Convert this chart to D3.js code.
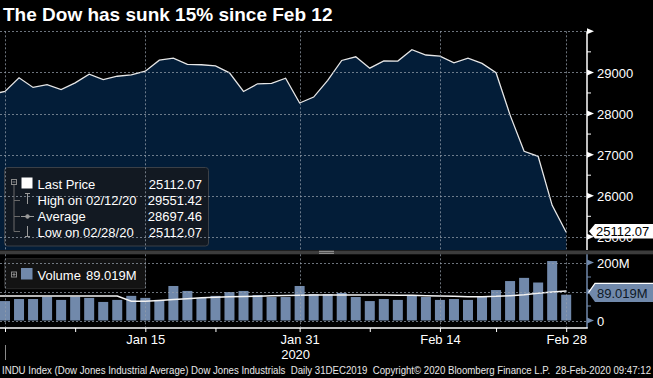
<!DOCTYPE html>
<html><head><meta charset="utf-8">
<script src="https://cdn.jsdelivr.net/npm/d3@7"></script>
<style>
html,body{margin:0;padding:0;background:#000;overflow:hidden}
svg{display:block}
text{font-family:"Liberation Sans",Arial,sans-serif}
</style>
</head><body>
<svg id="c" width="653" height="378"></svg>
<script>
// ---------- data ----------
const title = "The Dow has sunk 15% since Feb 12";
const dates = ["2019-12-30","2019-12-31","2020-01-02","2020-01-03","2020-01-06","2020-01-07","2020-01-08","2020-01-09","2020-01-10","2020-01-13","2020-01-14","2020-01-15","2020-01-16","2020-01-17","2020-01-21","2020-01-22","2020-01-23","2020-01-24","2020-01-27","2020-01-28","2020-01-29","2020-01-30","2020-01-31","2020-02-03","2020-02-04","2020-02-05","2020-02-06","2020-02-07","2020-02-10","2020-02-11","2020-02-12","2020-02-13","2020-02-14","2020-02-18","2020-02-19","2020-02-20","2020-02-21","2020-02-24","2020-02-25","2020-02-26","2020-02-27","2020-02-28"];
const closePrices = [28462,28538,28869,28635,28703,28584,28745,28957,28824,28907,28940,29030,29298,29348,29196,29186,29160,28990,28536,28723,28734,28859,28256,28400,28808,29291,29380,29103,29277,29276,29551,29423,29398,29232,29348,29220,28992,27961,27081,26958,25767,25112];
// volume in millions (Dec 31 .. Feb 28)
const volumeDates = dates.slice(1);
const volumes = [67,74,74,82,71,82,78,64,71,85,78,71,119,102,78,85,98,102,88,81,81,119,91,91,95,81,67,74,71,88,81,71,74,71,81,105,136,147,131,205,89.019];
// volume moving average in millions (Dec 30 .. Feb 28)
const volumeAvg = [84.5,84.5,84.5,84.5,84.5,84.5,84.5,84.5,84.5,84.5,66.2,66.2,69,72,75.2,78.6,80,81.7,82.8,83.9,85.1,86.2,86.9,87.9,87.9,87.9,87.9,87.9,87.9,87,86.8,85.6,84.5,83.3,82.2,82.2,83.3,85.6,89.1,93.7,98.3,101.7];
const priceTicks = [25000,26000,27000,28000,29000,30000];
const priceLabelTicks = [25000,26000,27000,28000,29000];
const priceMinorTicks = [25500,26500,27500,28500,29500];
const volumeGridTicks = [0,100,200];
const volumeLabelTicks = [0,200];
const volumeMinorTicks = [50,150];
const xTickDates = ["2019-12-31","2020-01-08","2020-01-15","2020-01-23","2020-01-31","2020-02-07","2020-02-14","2020-02-21","2020-02-28"];
const gridDates = ["2019-12-31","2020-01-15","2020-01-31","2020-02-14","2020-02-28"];
const xLabelDates = ["2020-01-15","2020-01-31","2020-02-14","2020-02-28"];
const xLabelTexts = ["Jan 15","Jan 31","Feb 14","Feb 28"];
const yearLabel = "2020";
const legendNames = ["Last Price","High on 02/12/20","Average","Low on 02/28/20"];
const legendValues = ["25112.07","29551.42","28697.46","25112.07"];
const lastPriceLabel = "25112.07";
const volumeLegend = ["Volume","89.019M"];
const footer = "INDU Index (Dow Jones Industrial Average) Dow Jones Industrials  Daily 31DEC2019  Copyright\u00A9 2020 Bloomberg Finance L.P.  28-Feb-2020 09:47:12";

// ---------- layout ----------
const svg = d3.select("#c");
const W = 653, axisX = 587;
const mainTop = 31.3, mainBot = 250;
const volTop = 254.3, volAxisY = 328;
const navy = "#031d38", barCol = "#7189ab", gridCol = "rgba(150,160,172,0.72)";

const x = d3.scalePoint().domain(dates).range([5 - 14.03, 566.2]);
const y = d3.scaleLinear().domain([24680, 30000]).range([mainBot, mainTop]);
const yv = d3.scaleLinear().domain([0, 200]).range([320.5, 262.5]);

svg.append("rect").attr("width", W).attr("height", 378).attr("fill", "#000");

const defs = svg.append("defs");
defs.append("clipPath").attr("id","cm").append("rect").attr("x",0).attr("y",mainTop).attr("width",axisX).attr("height",mainBot-mainTop);
defs.append("clipPath").attr("id","cv").append("rect").attr("x",0).attr("y",volTop).attr("width",axisX).attr("height",volAxisY-volTop);

// title
svg.append("text").attr("x",3).attr("y",21).attr("fill","#fff").attr("font-size",19).attr("font-weight","bold").text(title);

// ---------- main panel ----------
const gm = svg.append("g").attr("clip-path","url(#cm)");
const series = dates.map((d,i)=>({d, v: closePrices[i]}));
gm.append("path").datum(series)
  .attr("d", d3.area().x(p=>x(p.d)).y0(mainBot).y1(p=>y(p.v)))
  .attr("fill", navy);

// legend box background
svg.append("rect").attr("x",4.5).attr("y",167.5).attr("width",204).attr("height",78.5).attr("rx",3)
  .attr("fill","#121922").attr("stroke","#3b4047");

// grid main
const gg = svg.append("g").attr("stroke",gridCol).attr("stroke-dasharray","2,2").attr("stroke-width",1);
gg.selectAll(".hm").data(priceTicks).join("line")
  .attr("x1",0).attr("x2",axisX).attr("y1",d=>Math.round(y(d))+0.5).attr("y2",d=>Math.round(y(d))+0.5);
gg.selectAll(".vm").data(gridDates).join("line")
  .attr("x1",d=>Math.round(x(d))+0.5).attr("x2",d=>Math.round(x(d))+0.5).attr("y1",mainTop).attr("y2",mainBot);

gm.append("path").datum(series)
  .attr("d", d3.line().x(p=>x(p.d)).y(p=>y(p.v)))
  .attr("fill","none").attr("stroke","#e6e6e6").attr("stroke-width",1.3);

// legend content
const lg = svg.append("g");
const rowY = [188.5, 204.8, 221, 237.3];
lg.append("rect").attr("x",11.5).attr("y",179.5).attr("width",5).attr("height",5).attr("fill","none").attr("stroke","#8a8a8a");
lg.append("line").attr("x1",12.5).attr("x2",15.5).attr("y1",182).attr("y2",182).attr("stroke","#8a8a8a");
lg.append("line").attr("x1",14).attr("x2",14).attr("y1",185).attr("y2",231.5).attr("stroke","#6a6a6a");
[200.5,216.5,231.5].forEach(v=>lg.append("line").attr("x1",14).attr("x2",20).attr("y1",v).attr("y2",v).attr("stroke","#6a6a6a"));
lg.append("rect").attr("x",21.5).attr("y",177.5).attr("width",11).attr("height",11).attr("fill","#fff");
const sym = lg.append("g").attr("stroke","#9a9a9a").attr("fill","none");
sym.append("path").attr("d","M25,193.5H30M27.5,193.5V204");
sym.append("path").attr("d","M21,216.5H34");
sym.append("circle").attr("cx",27.5).attr("cy",216.5).attr("r",1.8).attr("fill","#9a9a9a");
sym.append("path").attr("d","M27.5,226V236.5M25,236.5H30");
lg.selectAll(".ln").data(legendNames).join("text")
  .attr("x",37.5).attr("y",(d,i)=>rowY[i]).attr("fill","#fff").attr("font-size",13).text(d=>d);
lg.selectAll(".lv").data(legendValues).join("text")
  .attr("x",202).attr("y",(d,i)=>rowY[i]).attr("text-anchor","end").attr("fill","#fff").attr("font-size",13).text(d=>d);

// main right axis
const ax = svg.append("g");
ax.append("line").attr("x1",axisX).attr("x2",axisX).attr("y1",mainTop).attr("y2",mainBot).attr("stroke","#fff").attr("stroke-width",1.5);
ax.selectAll(".tri").data(priceTicks).join("path")
  .attr("d",d=>`M${axisX},${y(d)-3}L${axisX+7},${y(d)}L${axisX},${y(d)+3}Z`).attr("fill","#fff");
ax.selectAll(".mi").data(priceMinorTicks).join("line")
  .attr("x1",axisX).attr("x2",axisX+4).attr("y1",d=>y(d)).attr("y2",d=>y(d)).attr("stroke","#fff");
const yAxis = d3.axisRight(y).tickValues(priceLabelTicks).tickSize(0).tickPadding(10).tickFormat(d3.format("d"));
const yAxG = svg.append("g").attr("transform",`translate(${axisX},0)`).call(yAxis);
yAxG.select(".domain").remove();
yAxG.selectAll("text").attr("fill","#fff").attr("font-size",13).attr("font-family","Liberation Sans, Arial, sans-serif").attr("dy","0.36em");

// last price box
const lp = y(closePrices[closePrices.length-1]) - 1;
svg.append("path").attr("d",`M589,${lp}L595,${lp-7.3}H653V${lp+7.3}H595Z`).attr("fill","#fff");
svg.append("text").attr("x",596).attr("y",lp+5).attr("fill","#000").attr("font-size",13).text(lastPriceLabel);

// separator
svg.append("rect").attr("x",0).attr("y",250.5).attr("width",W).attr("height",3.8).attr("fill","#3c3c3c");
svg.append("line").attr("x1",319).attr("x2",334).attr("y1",251.3).attr("y2",251.3).attr("stroke","#a0a0a0");
svg.append("line").attr("x1",319).attr("x2",334).attr("y1",253.3).attr("y2",253.3).attr("stroke","#a0a0a0");

// ---------- volume panel ----------
const gv = svg.append("g").attr("clip-path","url(#cv)");
gv.selectAll(".bar").data(volumes).join("rect")
  .attr("x",(d,i)=>x(volumeDates[i])-5).attr("width",10)
  .attr("y",d=>yv(d)).attr("height",d=>yv(0)-yv(d)).attr("fill",barCol);

// volume legend
svg.append("rect").attr("x",4.5).attr("y",258.7).attr("width",141).attr("height",30).attr("rx",2)
  .attr("fill","#131313").attr("stroke","#2a2a2a");

const gvg = svg.append("g").attr("stroke",gridCol).attr("stroke-dasharray","2,2");
gvg.selectAll(".hv").data(volumeGridTicks).join("line")
  .attr("x1",0).attr("x2",axisX).attr("y1",d=>Math.round(yv(d))+0.5).attr("y2",d=>Math.round(yv(d))+0.5);
gvg.selectAll(".vv").data(gridDates).join("line")
  .attr("x1",d=>Math.round(x(d))+0.5).attr("x2",d=>Math.round(x(d))+0.5).attr("y1",volTop).attr("y2",volAxisY-1);

gv.append("path").datum(volumeAvg)
  .attr("d", d3.line().x((d,i)=>x(dates[i])).y(d=>yv(d)))
  .attr("fill","none").attr("stroke","#f2f2f2").attr("stroke-width",1.5);

svg.append("rect").attr("x",11.5).attr("y",272).attr("width",5).attr("height",5).attr("fill","none").attr("stroke","#8a8a8a");
svg.append("path").attr("d","M12.5,274.5H15.5M14,273V276").attr("stroke","#8a8a8a");
svg.append("rect").attr("x",21).attr("y",268).attr("width",11.5).attr("height",11.5).attr("fill",barCol);
svg.append("text").attr("x",37.5).attr("y",280).attr("fill","#fff").attr("font-size",13).text(volumeLegend[0]);
svg.append("text").attr("x",86).attr("y",280).attr("fill","#fff").attr("font-size",13).text(volumeLegend[1]);

// volume right axis
svg.append("line").attr("x1",axisX).attr("x2",axisX).attr("y1",volTop).attr("y2",volAxisY).attr("stroke",barCol).attr("stroke-width",1.5);
svg.selectAll(".vtri").data(volumeGridTicks).join("path")
  .attr("d",d=>`M${axisX},${yv(d)-3}L${axisX+7},${yv(d)}L${axisX},${yv(d)+3}Z`).attr("fill",barCol);
svg.selectAll(".vmi").data(volumeMinorTicks).join("line")
  .attr("x1",axisX).attr("x2",axisX+4).attr("y1",d=>yv(d)).attr("y2",d=>yv(d)).attr("stroke",barCol);
const yvAxis = d3.axisRight(yv).tickValues(volumeLabelTicks).tickSize(0).tickPadding(10).tickFormat(d=>d===0?"0":d+"M");
const yvG = svg.append("g").attr("transform",`translate(${axisX},0)`).call(yvAxis);
yvG.select(".domain").remove();
yvG.selectAll("text").attr("fill","#fff").attr("font-size",13).attr("font-family","Liberation Sans, Arial, sans-serif").attr("dy","0.36em");

// volume last label
const lv = yv(volumes[volumes.length-1]) - 2;
svg.append("path").attr("d",`M588.5,${lv}L595,${lv-9.3}H653V${lv+9.3}H595Z`).attr("fill",barCol);
svg.append("path").attr("d",`M588.5,${lv}L595,${lv-9.3}H653`).attr("fill","none").attr("stroke","#fff").attr("stroke-width",1.2);
svg.append("text").attr("x",597).attr("y",lv+5.5).attr("fill","#0d1826").attr("font-size",13).text(volumeLegend[1]);

// ---------- x axis ----------
svg.append("line").attr("x1",0).attr("x2",axisX+0.75).attr("y1",volAxisY).attr("y2",volAxisY).attr("stroke","#fff").attr("stroke-width",1.6);
const xAxis = d3.axisBottom(x).tickValues(xTickDates).tickSize(4).tickPadding(3)
  .tickFormat(d=>{const k=xLabelDates.indexOf(d);return k>=0?xLabelTexts[k]:"";});
const xg = svg.append("g").attr("transform",`translate(0,${volAxisY})`).call(xAxis);
xg.select(".domain").remove();
xg.selectAll("line").attr("stroke","#fff");
xg.selectAll("text").attr("fill","#fff").attr("font-size",13).attr("font-family","Liberation Sans, Arial, sans-serif");
svg.append("text").attr("x",x("2020-01-31")-4).attr("y",359).attr("text-anchor","middle").attr("fill","#fff").attr("font-size",13).text(yearLabel);
svg.append("line").attr("x1",x("2019-12-31")+0.5).attr("x2",x("2019-12-31")+0.5).attr("y1",345).attr("y2",360).attr("stroke","#8a8a8a");

// footer
svg.append("text").attr("x",2).attr("y",374).attr("fill","#e8e8e8").attr("font-size",10)
  .style("white-space","pre").attr("textLength",649).attr("lengthAdjust","spacingAndGlyphs").text(footer);
</script>
</body></html>
